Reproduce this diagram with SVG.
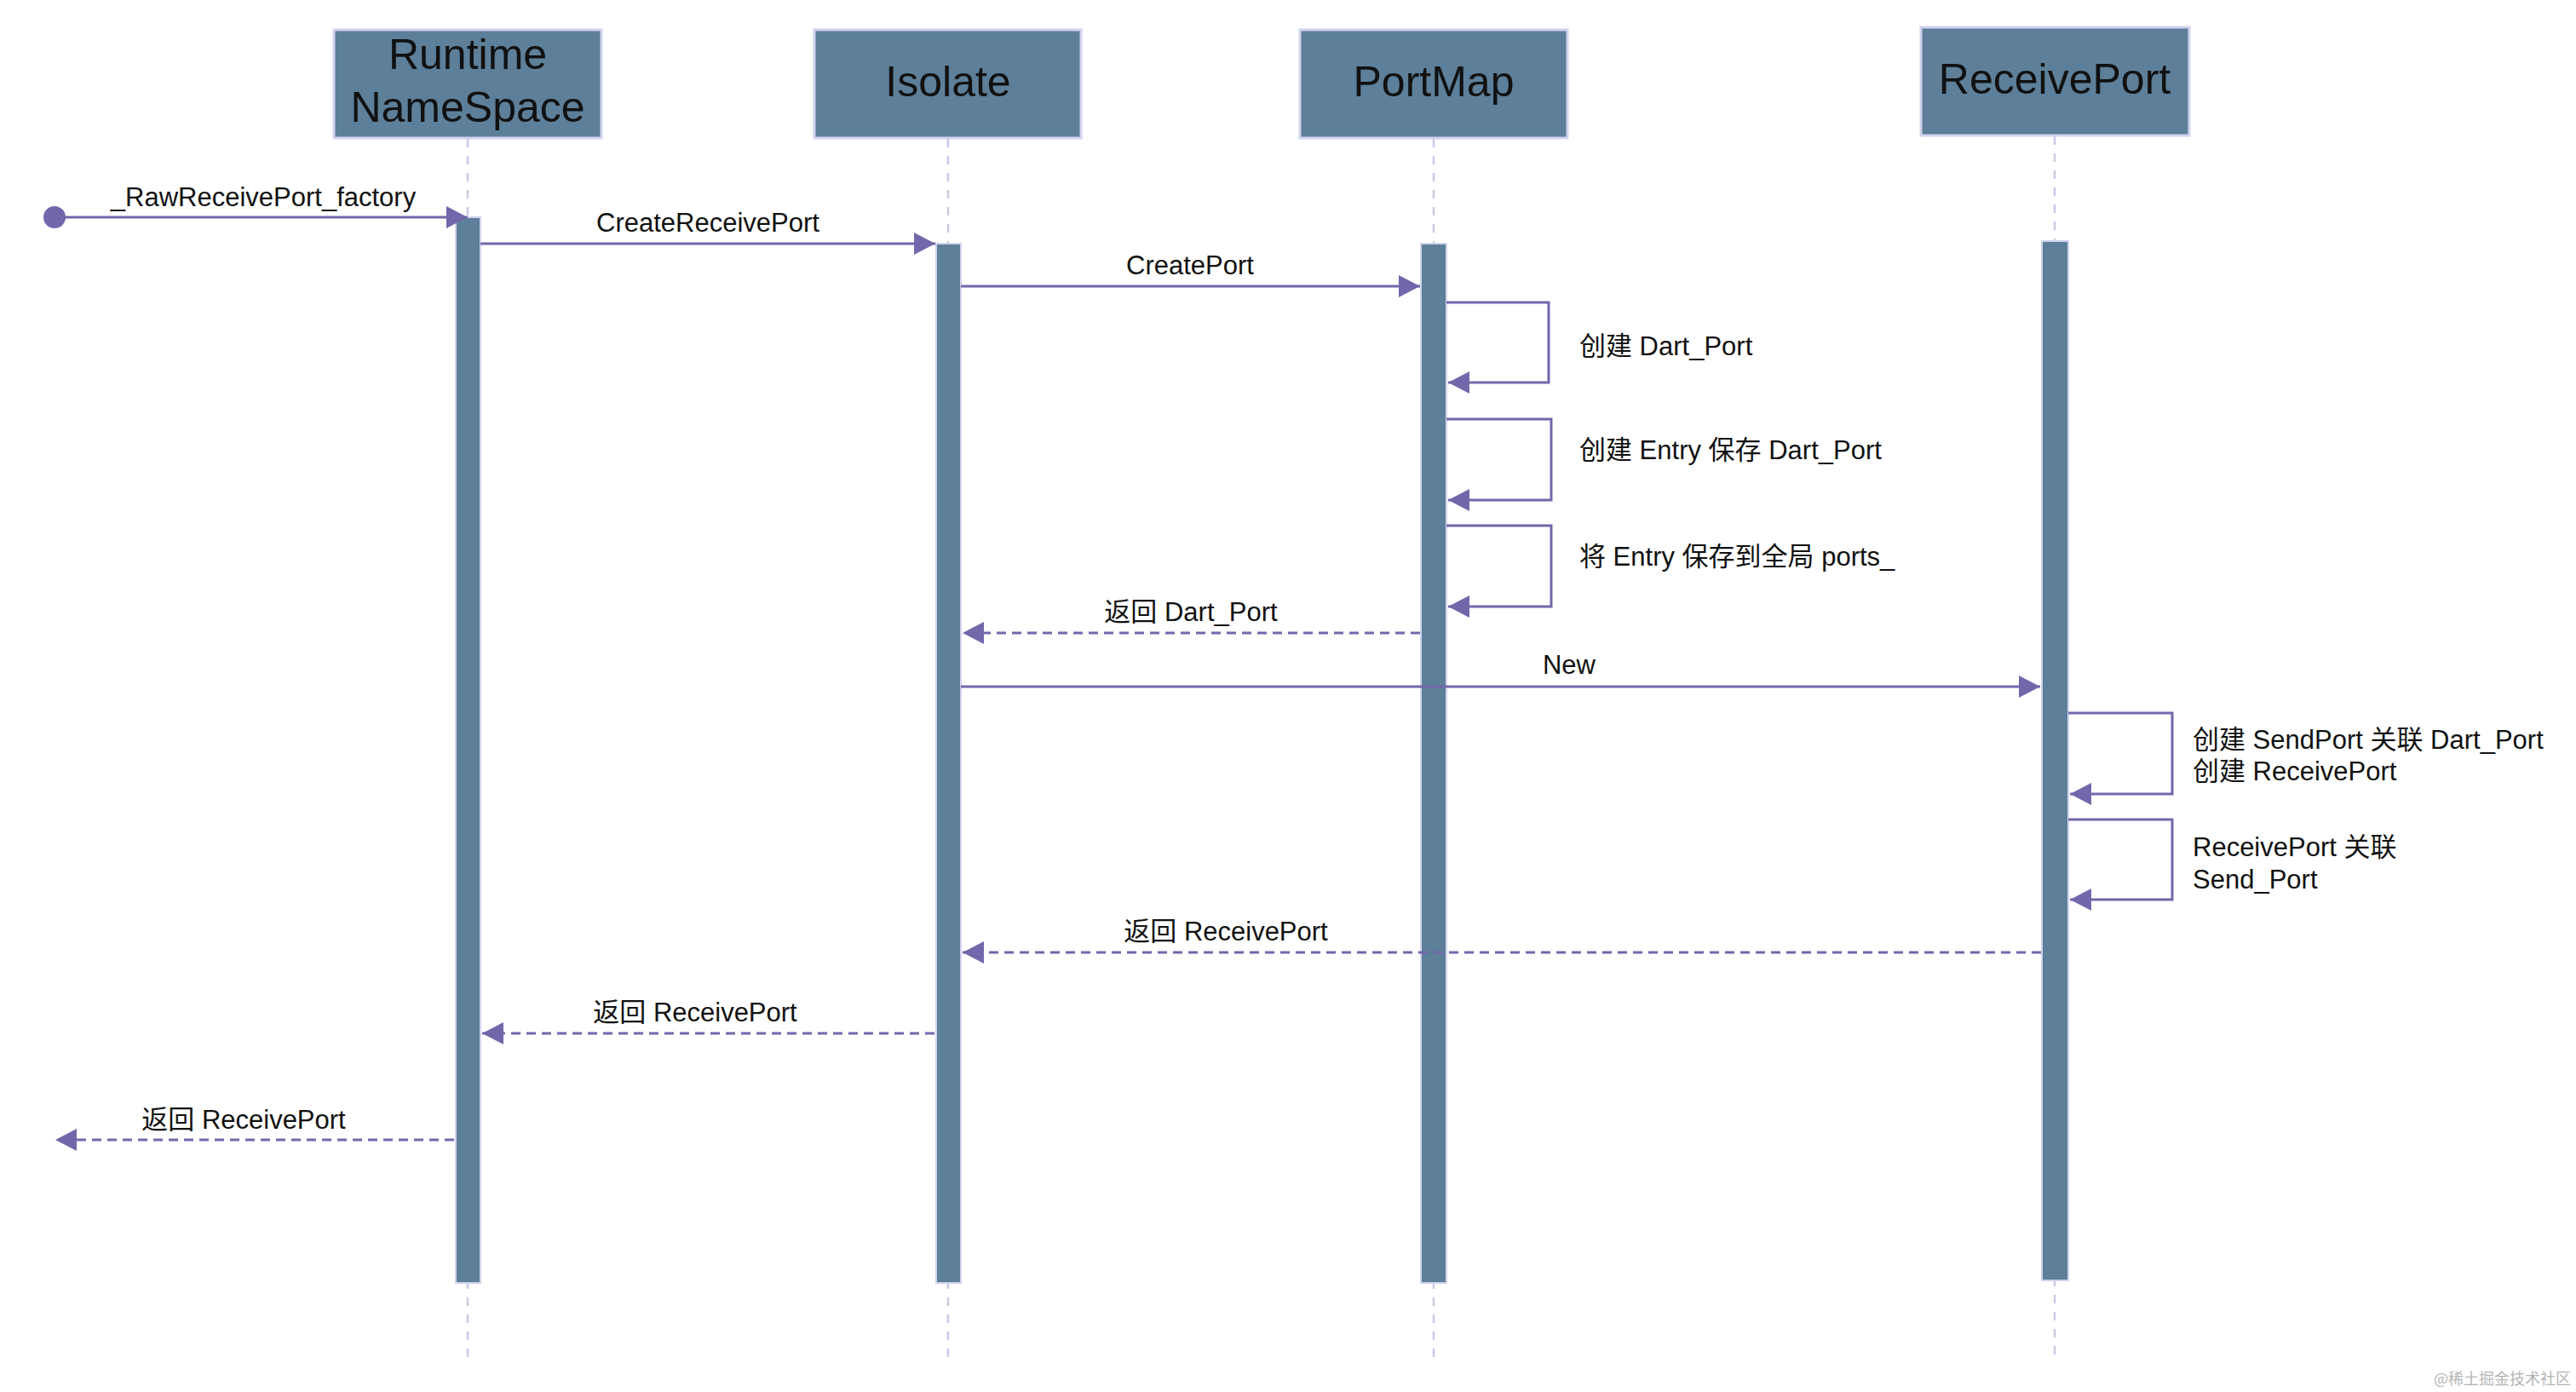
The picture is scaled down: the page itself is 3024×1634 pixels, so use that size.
<svg xmlns="http://www.w3.org/2000/svg" width="3024" height="1634" viewBox="0 0 3024 1634">
<defs>
<style>
.box{fill:#5d7f99;stroke:#d2d2ee;stroke-width:3}
.bar{fill:#5d7f99;stroke:#d2d2ee;stroke-width:2}
.life{stroke:#cacae4;stroke-width:2.5;stroke-dasharray:10 10;fill:none}
.msg{stroke:#7367ab;stroke-width:3;fill:none}
.ret{stroke:#7367ab;stroke-width:3;fill:none;stroke-dasharray:11 7}
.hd{font-family:"Liberation Sans","Noto Sans CJK SC",sans-serif;font-size:50px;fill:#111;text-anchor:middle}
.lb{font-family:"Liberation Sans","Noto Sans CJK SC",sans-serif;font-size:31px;fill:#111}
.c{text-anchor:middle}
.wm{font-family:"Noto Sans CJK SC",sans-serif;font-size:18px;fill:#b4b4b4}
</style>
<marker id="ah" viewBox="0 0 25 26" refX="25" refY="13" markerWidth="25" markerHeight="26" markerUnits="userSpaceOnUse" orient="auto">
<path d="M0,0 L25,13 L0,26 Z" fill="#7367ab"/>
</marker>
</defs>
<rect width="3024" height="1634" fill="#ffffff"/>

<g id="lifelines">
<line class="life" x1="549" y1="163" x2="549" y2="1598"/>
<line class="life" x1="1113" y1="163" x2="1113" y2="1598"/>
<line class="life" x1="1683" y1="163" x2="1683" y2="1598"/>
<line class="life" x1="2412" y1="160" x2="2412" y2="1598"/>
</g>

<g id="runtime">
<rect class="box" x="392" y="35" width="314" height="127"/>
<text class="hd" x="549" y="81">Runtime</text>
<text class="hd" x="549" y="143">NameSpace</text>
<rect class="bar" x="535" y="255" width="29" height="1251"/>
</g>
<g id="isolate">
<rect class="box" x="956" y="35" width="313" height="127"/>
<text class="hd" x="1113" y="113">Isolate</text>
<rect class="bar" x="1099" y="286" width="29" height="1220"/>
</g>
<g id="portmap">
<rect class="box" x="1526" y="35" width="314" height="127"/>
<text class="hd" x="1683" y="113">PortMap</text>
<rect class="bar" x="1668" y="286" width="30" height="1220"/>
</g>
<g id="receiveport">
<rect class="box" x="2255" y="32" width="315" height="127"/>
<text class="hd" x="2412" y="110">ReceivePort</text>
<rect class="bar" x="2397" y="283" width="31" height="1220"/>
</g>

<g id="connectors">
<circle cx="64" cy="255" r="13" fill="#7367ab"/>
<line class="msg" x1="64" y1="255" x2="549" y2="255" marker-end="url(#ah)"/>
<line class="msg" x1="564" y1="286" x2="1098" y2="286" marker-end="url(#ah)"/>
<line class="msg" x1="1128" y1="336" x2="1667" y2="336" marker-end="url(#ah)"/>
<polyline class="msg" points="1698,355 1818,355 1818,449 1700,449" marker-end="url(#ah)"/>
<polyline class="msg" points="1698,492 1821,492 1821,587 1700,587" marker-end="url(#ah)"/>
<polyline class="msg" points="1698,617 1821,617 1821,712 1700,712" marker-end="url(#ah)"/>
<line class="ret" x1="1667" y1="743" x2="1130" y2="743" marker-end="url(#ah)"/>
<line class="msg" x1="1128" y1="806" x2="2395" y2="806" marker-end="url(#ah)"/>
<polyline class="msg" points="2428,837 2550,837 2550,932 2430,932" marker-end="url(#ah)"/>
<polyline class="msg" points="2428,962 2550,962 2550,1056 2430,1056" marker-end="url(#ah)"/>
<line class="ret" x1="2396" y1="1118" x2="1130" y2="1118" marker-end="url(#ah)"/>
<line class="ret" x1="1097" y1="1213" x2="566" y2="1213" marker-end="url(#ah)"/>
<line class="ret" x1="533" y1="1338" x2="65" y2="1338" marker-end="url(#ah)"/>
</g>

<g id="labels">
<text class="lb c" x="309" y="242">_RawReceivePort_factory</text>
<text class="lb c" x="831" y="272">CreateReceivePort</text>
<text class="lb c" x="1397" y="322">CreatePort</text>
<text class="lb" x="1854" y="417">创建 Dart_Port</text>
<text class="lb" x="1854" y="539">创建 Entry 保存 Dart_Port</text>
<text class="lb" x="1854" y="664">将 Entry 保存到全局 ports_</text>
<text class="lb c" x="1398" y="729">返回 Dart_Port</text>
<text class="lb c" x="1842" y="791">New</text>
<text class="lb" x="2574" y="879">创建 SendPort 关联 Dart_Port</text>
<text class="lb" x="2574" y="916">创建 ReceivePort</text>
<text class="lb" x="2574" y="1005">ReceivePort 关联</text>
<text class="lb" x="2574" y="1043">Send_Port</text>
<text class="lb c" x="1439" y="1104">返回 ReceivePort</text>
<text class="lb c" x="816" y="1199">返回 ReceivePort</text>
<text class="lb c" x="286" y="1325">返回 ReceivePort</text>
</g>

<text class="wm" x="2857" y="1625">@稀土掘金技术社区</text>
</svg>
